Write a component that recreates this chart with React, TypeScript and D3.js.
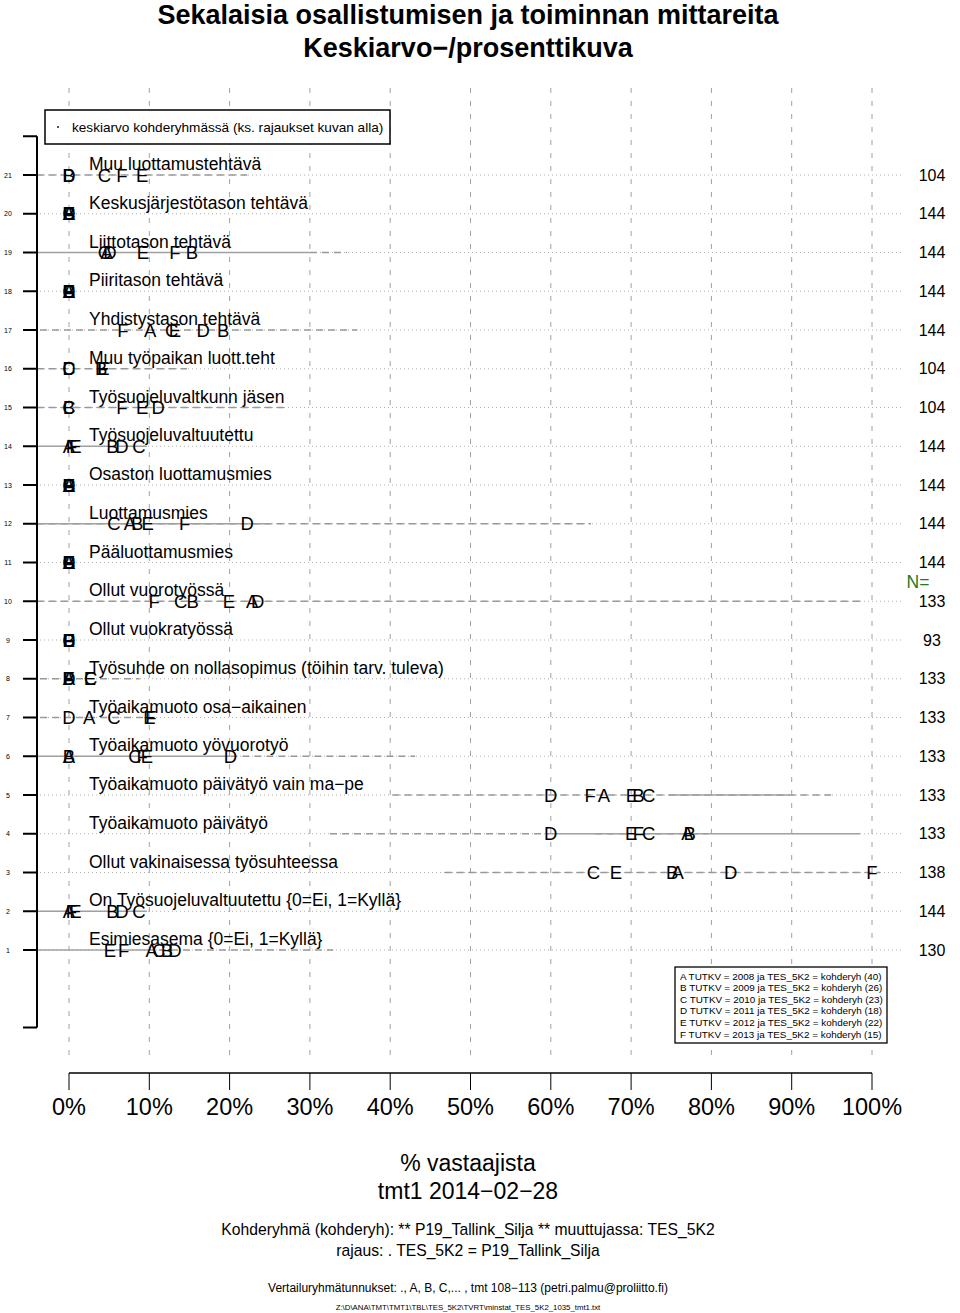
import React from 'react';
import * as d3 from 'd3';

// groups A..F, comparison years
const GROUPS = ['A', 'B', 'C', 'D', 'E', 'F'];
const GROUP_YEARS = [2008, 2009, 2010, 2011, 2012, 2013];
const GROUP_COUNTS = [40, 26, 23, 18, 22, 15];

// rows listed from top (21) to bottom (1)
const ROW_IDS = [21, 20, 19, 18, 17, 16, 15, 14, 13, 12, 11, 10, 9, 8, 7, 6, 5, 4, 3, 2, 1];

const ROW_LABELS = [
  'Muu luottamustehtävä',
  'Keskusjärjestötason tehtävä',
  'Liittotason tehtävä',
  'Piiritason tehtävä',
  'Yhdistystason tehtävä',
  'Muu työpaikan luott.teht',
  'Työsuojeluvaltkunn jäsen',
  'Työsuojeluvaltuutettu',
  'Osaston luottamusmies',
  'Luottamusmies',
  'Pääluottamusmies',
  'Ollut vuorotyössä',
  'Ollut vuokratyössä',
  'Työsuhde on nollasopimus (töihin tarv. tuleva)',
  'Työaikamuoto osa−aikainen',
  'Työaikamuoto yövuorotyö',
  'Työaikamuoto päivätyö vain ma−pe',
  'Työaikamuoto päivätyö',
  'Ollut vakinaisessa työsuhteessa',
  'On Työsuojeluvaltuutettu {0=Ei, 1=Kyllä}',
  'Esimiesasema {0=Ei, 1=Kyllä}',
];

const ROW_N = [104, 144, 144, 144, 144, 104, 104, 144, 144, 144, 144, 133, 93, 133, 133, 133, 133, 133, 138, 144, 130];

// % values per row, order A B C D E F (null = no answers)
const ROW_VALUES: (number | null)[][] = [
  [null, 0, 4.4, 0, 9.1, 6.6],
  [0, 0, 0, 0, 0, 0],
  [4.7, 15.3, 4.4, 5.1, 9.2, 13.2],
  [0, 0, 0, 0, 0, 0],
  [10.1, 19.2, 12.8, 16.7, 13.2, 6.7],
  [null, 4.0, 0, 0, 4.3, 4.2],
  [null, 0, 0, 11.1, 9.1, 6.6],
  [0, 5.4, 8.7, 6.6, 0.8, 0.3],
  [0, 0, 0, 0, 0, 0],
  [7.6, 8.5, 5.6, 22.2, 9.8, 14.4],
  [0, 0, 0, 0, 0, 0],
  [22.8, 15.4, 13.9, 23.5, 19.9, 10.6],
  [null, 0, 0, 0, 0, 0],
  [0, 0, 2.7, 0, 2.6, 0],
  [2.5, null, 5.6, 0, 10.0, 10.2],
  [0, 0, 8.2, 20.1, 9.7, 9.1],
  [66.6, 70.9, 72.2, 60.0, 70.1, 64.9],
  [77.0, 77.3, 72.2, 60.0, 70.0, 70.9],
  [75.8, 75.1, 65.3, 82.4, 68.1, 100],
  [0, 5.4, 8.7, 6.6, 0.8, 0.3],
  [10.3, 12.2, 11.2, 13.2, 5.1, 6.8],
];

// grey interval lines per row (in %): solid and dashed segments
const ROW_SOLID: ([number, number] | null)[] = [
  null, null, [-4, 30], null, null, null, null, [-4, 9.7], null, [-4, 25], null, null, null, null, null,
  [-4, 20.1], [74.7, 89.8], [60, 98.5], null, [-4, 9.7], [-4, 9.7],
];
const ROW_DASHED: [number, number][][] = [
  [[-4, 22.2]],
  [],
  [[30, 34.6]],
  [],
  [[-3.6, 35.9]],
  [[-4, 14.7]],
  [[-4, 27.1]],
  [],
  [],
  [[-4, 65]],
  [],
  [[-4, 98.5]],
  [],
  [[-3.6, 8.8]],
  [[-3.6, 10.9]],
  [[20.1, 43.1]],
  [[40.3, 94.9]],
  [[32.5, 60], [65.5, 79.5]],
  [[46.8, 101]],
  [],
  [[9.7, 32.9]],
];

const X_TICKS = [0, 10, 20, 30, 40, 50, 60, 70, 80, 90, 100];

const FONT = 'Liberation Sans, Arial, Helvetica, sans-serif';
const W = 960;
const H = 1313;

const App: React.FC = () => {
  const x = d3.scaleLinear().domain([0, 100]).range([69, 872]);
  const y = d3.scaleLinear().domain([1, 21]).range([950, 175]);
  const cx = 468;

  const rows = ROW_IDS.map((id, i) => ({
    id,
    label: ROW_LABELS[i],
    n: ROW_N[i],
    values: ROW_VALUES[i],
    solid: ROW_SOLID[i],
    dashed: ROW_DASHED[i],
  }));

  return (
    <div style={{ position: 'absolute', left: 0, top: 0 }}>
      <svg width={W} height={H} viewBox={`0 0 ${W} ${H}`} style={{ display: 'block', background: '#fff' }} fontFamily={FONT}>
        {/* title */}
        <text x={cx} y={24} textAnchor="middle" fontSize={27} fontWeight="bold">
          Sekalaisia osallistumisen ja toiminnan mittareita
        </text>
        <text x={cx} y={57} textAnchor="middle" fontSize={27} fontWeight="bold">
          Keskiarvo−/prosenttikuva
        </text>

        {/* horizontal dotted grid */}
        {rows.map((r) => (
          <line key={`hg${r.id}`} x1={40} x2={903} y1={y(r.id)} y2={y(r.id)} stroke="#b0b0b0" strokeWidth={1} strokeDasharray="1,3" />
        ))}

        {/* vertical dashed grid */}
        {X_TICKS.map((t) => (
          <line key={`vg${t}`} x1={x(t)} x2={x(t)} y1={88} y2={1062} stroke="#a0a0a0" strokeWidth={1} strokeDasharray="5,8" />
        ))}

        {/* grey interval lines */}
        {rows.map((r) => (
          <g key={`iv${r.id}`}>
            {r.dashed.map((s, j) => (
              <line key={j} x1={x(s[0])} x2={x(s[1])} y1={y(r.id)} y2={y(r.id)} stroke="#999" strokeWidth={1.4} strokeDasharray="7,5" />
            ))}
            {r.solid && (
              <line x1={x(r.solid[0])} x2={x(r.solid[1])} y1={y(r.id)} y2={y(r.id)} stroke="#a0a0a0" strokeWidth={1.6} />
            )}
          </g>
        ))}

        {/* legend box top */}
        <rect x={45} y={110} width={345} height={34} fill="#fff" stroke="#000" strokeWidth={1.5} />
        <circle cx={58} cy={127} r={0.9} fill="#000" />
        <text x={72} y={131.5} fontSize={13.6}>
          keskiarvo kohderyhmässä (ks. rajaukset kuvan alla)
        </text>

        {/* y axis bracket */}
        <line x1={37} x2={37} y1={y(22)} y2={y(-1)} stroke="#000" strokeWidth={2} />
        {[22, ...ROW_IDS, -1].map((v) => (
          <line key={`yt${v}`} x1={23} x2={37} y1={y(v)} y2={y(v)} stroke="#000" strokeWidth={2} />
        ))}
        {ROW_IDS.map((v) => (
          <text key={`yl${v}`} x={8} y={y(v) + 2.5} textAnchor="middle" fontSize={7}>
            {v}
          </text>
        ))}

        {/* row labels */}
        {rows.map((r) => (
          <text key={`rl${r.id}`} x={89} y={y(r.id) - 5} fontSize={17.5}>
            {r.label}
          </text>
        ))}

        {/* group letters */}
        {rows.map((r) =>
          r.values.map((v, gi) =>
            v === null ? null : (
              <text key={`p${r.id}${gi}`} x={x(v)} y={y(r.id) + 6.5} textAnchor="middle" fontSize={18.5}>
                {GROUPS[gi]}
              </text>
            )
          )
        )}

        {/* N column */}
        {rows.map((r) => (
          <text key={`n${r.id}`} x={932} y={y(r.id) + 5.5} textAnchor="middle" fontSize={16}>
            {r.n}
          </text>
        ))}
        <text x={918} y={588} textAnchor="middle" fontSize={17.5} fill="#1f7a1f">
          N=
        </text>

        {/* group legend */}
        <rect x={675} y={967} width={212} height={76} fill="#fff" stroke="#000" strokeWidth={1.3} />
        {GROUPS.map((g, i) => (
          <text key={`lg${g}`} x={680} y={979.5 + i * 11.6} fontSize={9.9}>
            {`${g}  TUTKV = ${GROUP_YEARS[i]} ja TES_5K2 = kohderyh (${GROUP_COUNTS[i]})`}
          </text>
        ))}

        {/* x axis */}
        <line x1={x(0)} x2={x(100)} y1={1073} y2={1073} stroke="#000" strokeWidth={1.5} />
        {X_TICKS.map((t) => (
          <g key={`xt${t}`}>
            <line x1={x(t)} x2={x(t)} y1={1073} y2={1090} stroke="#000" strokeWidth={1} />
            <text x={x(t)} y={1114.5} textAnchor="middle" fontSize={23.5}>
              {`${t}%`}
            </text>
          </g>
        ))}

        {/* bottom texts */}
        <text x={cx} y={1171} textAnchor="middle" fontSize={23}>
          % vastaajista
        </text>
        <text x={cx} y={1199} textAnchor="middle" fontSize={23}>
          tmt1 2014−02−28
        </text>
        <text x={cx} y={1235} textAnchor="middle" fontSize={15.7}>
          Kohderyhmä (kohderyh): ** P19_Tallink_Silja ** muuttujassa:  TES_5K2
        </text>
        <text x={cx} y={1256} textAnchor="middle" fontSize={15.7}>
          rajaus:  . TES_5K2 = P19_Tallink_Silja
        </text>
        <text x={cx} y={1292} textAnchor="middle" fontSize={12}>
          Vertailuryhmätunnukset: ., A, B, C,...   , tmt 108−113 (petri.palmu@proliitto.fi)
        </text>
        <text x={cx} y={1310} textAnchor="middle" fontSize={7.8}>
          Z:\D\ANA\TMT\TMT1\TBL\TES_5K2\TVRT\minstat_TES_5K2_1035_tmt1.txt
        </text>
      </svg>
    </div>
  );
};

export default App;
